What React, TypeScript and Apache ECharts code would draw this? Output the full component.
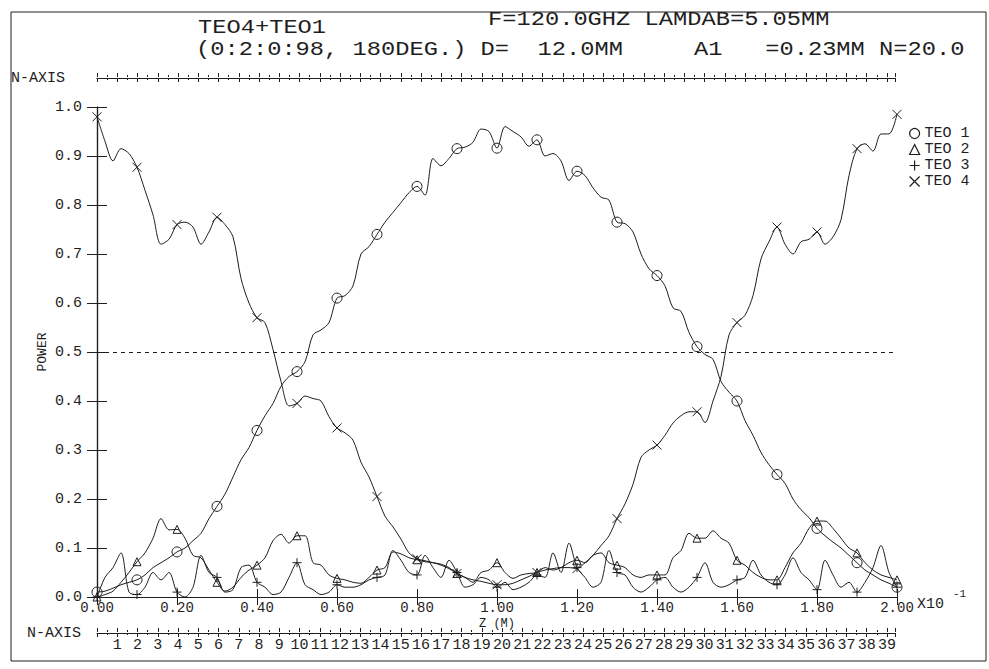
import React, { useEffect, useRef } from "react";
import * as echarts from "echarts";

// Axial position Z (x10^-1 m), sampled every 0.02
const Z_STEP = 0.02;
const Z_COUNT = 101;
const Z = Array.from({ length: Z_COUNT }, (_, i) => Math.round(i * Z_STEP * 100) / 100);

// Mode powers along the converter
const TEO1 = [
  0.01, 0.012, 0.018, 0.025, 0.03, 0.035, 0.045, 0.06, 0.07, 0.08,
  0.092, 0.1, 0.115, 0.13, 0.16, 0.185, 0.21, 0.245, 0.28, 0.305,
  0.34, 0.37, 0.395, 0.43, 0.45, 0.46, 0.48, 0.535, 0.545, 0.56,
  0.61, 0.615, 0.635, 0.7, 0.715, 0.74, 0.765, 0.785, 0.805, 0.825,
  0.838, 0.82, 0.895, 0.88, 0.895, 0.915, 0.918, 0.928, 0.955, 0.95,
  0.916, 0.96, 0.95, 0.939, 0.92, 0.933, 0.9, 0.905, 0.89, 0.85,
  0.869, 0.86, 0.835, 0.816, 0.81, 0.765, 0.762, 0.745, 0.7, 0.67,
  0.656, 0.635, 0.59, 0.583, 0.54, 0.511, 0.495, 0.485, 0.44, 0.418,
  0.4, 0.36, 0.33, 0.295, 0.27, 0.25, 0.232, 0.2, 0.178, 0.162,
  0.14, 0.125, 0.112, 0.1, 0.085, 0.07, 0.055, 0.045, 0.035, 0.028,
  0.02,
];

const TEO2 = [
  0.0, 0.005, 0.012, 0.03, 0.05, 0.072, 0.09, 0.12, 0.16, 0.137,
  0.138, 0.12, 0.085, 0.08, 0.055, 0.03, 0.012, 0.02, 0.04, 0.055,
  0.065, 0.08, 0.115, 0.128, 0.11, 0.125, 0.125, 0.07, 0.065, 0.045,
  0.038, 0.035, 0.03, 0.028, 0.04, 0.055, 0.06, 0.092, 0.088, 0.08,
  0.076, 0.072, 0.07, 0.065, 0.058, 0.048, 0.04, 0.03, 0.05, 0.055,
  0.07, 0.05, 0.038, 0.045, 0.048, 0.05, 0.06, 0.055, 0.06, 0.07,
  0.075, 0.07, 0.085, 0.09, 0.07, 0.065, 0.06, 0.045, 0.04, 0.045,
  0.045, 0.045, 0.08, 0.095, 0.13, 0.12, 0.12, 0.135, 0.12, 0.11,
  0.075, 0.065, 0.05, 0.04, 0.035, 0.035, 0.06, 0.09, 0.11, 0.14,
  0.155, 0.155, 0.14, 0.12, 0.1, 0.09, 0.07, 0.055, 0.045, 0.04,
  0.035,
];

const TEO3 = [
  0.0, 0.04, 0.06, 0.09, 0.01, 0.005, 0.02, 0.05, 0.035, 0.05,
  0.01, 0.0, 0.02, 0.085, 0.05, 0.04, 0.01, 0.015, 0.06, 0.065,
  0.03, 0.02, 0.005, 0.01, 0.04, 0.07, 0.025, 0.015, 0.005, 0.01,
  0.025, 0.02, 0.02, 0.025, 0.035, 0.04, 0.045, 0.095, 0.075, 0.05,
  0.045, 0.085, 0.06, 0.04, 0.075, 0.05, 0.02, 0.025, 0.04, 0.035,
  0.02, 0.03, 0.015, 0.02, 0.03, 0.045, 0.04, 0.09, 0.05, 0.11,
  0.06, 0.04, 0.02, 0.03, 0.095, 0.05, 0.045, 0.02, 0.01, 0.02,
  0.035, 0.04, 0.02, 0.01, 0.02, 0.04, 0.07, 0.03, 0.02, 0.025,
  0.035, 0.04, 0.075, 0.045, 0.03, 0.025, 0.045, 0.08, 0.05, 0.035,
  0.015, 0.075, 0.045, 0.02, 0.03, 0.01, 0.03, 0.06, 0.105, 0.05,
  0.02,
];

const TEO4 = [
  0.98, 0.93, 0.89, 0.915, 0.905, 0.877, 0.83, 0.78, 0.72, 0.73,
  0.76, 0.765, 0.755, 0.72, 0.745, 0.775, 0.76, 0.735, 0.65, 0.6,
  0.57, 0.56, 0.505, 0.44, 0.39, 0.395, 0.41, 0.405, 0.4, 0.368,
  0.345, 0.335, 0.32, 0.275, 0.245, 0.205, 0.165, 0.143, 0.118, 0.09,
  0.078, 0.074, 0.07, 0.067, 0.06, 0.048, 0.04, 0.035, 0.032, 0.028,
  0.025, 0.025, 0.028, 0.035, 0.042, 0.05, 0.055, 0.058, 0.06, 0.06,
  0.058, 0.07, 0.085, 0.105, 0.125, 0.16, 0.19, 0.23, 0.285, 0.3,
  0.31, 0.33, 0.355, 0.37, 0.378, 0.378, 0.356, 0.4, 0.45, 0.535,
  0.56, 0.575, 0.615, 0.69, 0.725, 0.755, 0.72, 0.7, 0.725, 0.73,
  0.745, 0.72, 0.735, 0.77, 0.86, 0.915, 0.925, 0.91, 0.945, 0.945,
  0.985,
];

const MODE_NAMES = ["TEO 1", "TEO 2", "TEO 3", "TEO 4"];
const Z_TICKS_MAX = 2;
const N_MAX = 39.4;
const HALF_POWER = 0.5;
const MARK_EVERY = 5;

const INK = "#1e1e1e";
const FONT = "Liberation Mono";
const PLUS = "path://M0,5L10,5M5,0L5,10";
const CROSS = "path://M0,0L10,10M10,0L0,10";

const TITLE_1 = "TEO4+TEO1";
const TITLE_2 = "F=120.0GHZ LAMDAB=5.05MM";
const TITLE_3 = "(0:2:0:98, 180DEG.) D=  12.0MM     A1   =0.23MM N=20.0";

function modeSeries(name: string, values: number[], symbol: string, size: number, withRef = false) {
  const s: any = {
    type: "line",
    name,
    xAxisIndex: 0,
    yAxisIndex: 0,
    data: Z.map((z, i) => [z, values[i]]),
    smooth: 0.3,
    symbol,
    symbolSize: (_v: any, p: any) => (p.dataIndex % MARK_EVERY === 0 ? size : 0),
    showSymbol: true,
    showAllSymbol: true,
    lineStyle: { color: INK, width: 1 },
    itemStyle: { color: "transparent", borderColor: INK, borderWidth: 1 },
    emphasis: { disabled: true },
    silent: true,
    z: 3,
  };
  if (withRef) {
    s.markLine = {
      silent: true,
      symbol: ["none", "none"],
      label: { show: false },
      lineStyle: { color: INK, type: [4, 4], width: 1 },
      data: [{ yAxis: HALF_POWER }],
    };
  }
  return s;
}

function nAxis(gridIndex: number, position: "top" | "bottom", withLine: boolean, labels: boolean, name?: string, nameGap?: number) {
  return {
    gridIndex,
    type: "value",
    position,
    min: 0,
    max: N_MAX,
    interval: 1,
    axisLine: { show: withLine, lineStyle: { color: INK, width: 1 } },
    axisTick: { show: true, inside: false, length: 4, lineStyle: { color: INK, width: 1 } },
    minorTick: { show: true, splitNumber: 2, length: 2, lineStyle: { color: INK, width: 1 } },
    splitLine: { show: false },
    axisLabel: {
      show: labels,
      margin: 5,
      fontSize: 15,
      fontFamily: FONT,
      color: INK,
      formatter: (v: number) => (Number.isInteger(v) && v > 0 ? String(v) : ""),
    },
    name: name || "",
    nameLocation: "start",
    nameGap: nameGap || 0,
    nameMoveOverlap: false,
    nameTextStyle: { fontSize: 15, fontFamily: FONT, color: INK },
  };
}

function titleText(text: string, x: number, y: number) {
  return {
    type: "text",
    x,
    y,
    scaleX: 1.13,
    style: {
      text,
      fontSize: 21,
      lineHeight: 21,
      fontFamily: FONT,
      fill: INK,
      verticalAlign: "middle",
    },
  };
}

export default function App() {
  const ref = useRef<HTMLDivElement>(null);

  useEffect(() => {
    if (!ref.current) return;
    const chart = echarts.init(ref.current, null, { renderer: "svg" });

    const zAxisBase = {
      gridIndex: 0,
      type: "value",
      min: 0,
      max: Z_TICKS_MAX,
      interval: 0.2,
      axisLine: { show: true, lineStyle: { color: INK, width: 1.2 } },
      axisTick: { show: true, inside: true, length: 8, lineStyle: { color: INK, width: 1 } },
      splitLine: { show: false },
    };
    const powerAxisBase = {
      gridIndex: 0,
      type: "value",
      min: 0,
      max: 1,
      interval: 0.1,
      axisLine: { show: true, lineStyle: { color: INK, width: 1.2 } },
      axisTick: { show: true, inside: true, length: 10, lineStyle: { color: INK, width: 1 } },
      splitLine: { show: false },
    };

    const option: any = {
      animation: false,
      backgroundColor: "#ffffff",
      textStyle: { fontFamily: FONT, color: INK },
      grid: [
        { left: 97, top: 107, width: 800, height: 490 },
        { left: 97, top: 77, width: 798, height: 1 },
        { left: 97, top: 632, width: 798, height: 1 },
      ],
      xAxis: [
        {
          ...zAxisBase,
          position: "bottom",
          axisLabel: {
            margin: 4,
            fontSize: 14,
            lineHeight: 13,
            fontFamily: FONT,
            color: INK,
            formatter: (v: number) => v.toFixed(2),
          },
          name: "Z (M)",
          nameLocation: "middle",
          nameGap: 21,
          nameMoveOverlap: false,
          nameTextStyle: {
            fontSize: 12,
            lineHeight: 11,
            fontFamily: FONT,
            color: INK,
            verticalAlign: "top",
          },
        },
        { ...zAxisBase, position: "top", axisLabel: { show: false } },
        nAxis(1, "bottom", true, false, "N-AXIS", 32),
        nAxis(1, "top", false, false),
        nAxis(2, "bottom", true, true, "N-AXIS", 16),
        nAxis(2, "top", false, false),
      ],
      yAxis: [
        {
          ...powerAxisBase,
          position: "left",
          axisLabel: {
            margin: 15,
            fontSize: 15,
            fontFamily: FONT,
            color: INK,
            formatter: (v: number) => v.toFixed(1),
          },
          name: "POWER",
          nameLocation: "middle",
          nameGap: 48,
          nameRotate: 90,
          nameMoveOverlap: false,
          nameTextStyle: { fontSize: 13, fontFamily: FONT, color: INK },
        },
        { ...powerAxisBase, position: "right", axisLabel: { show: false } },
        { gridIndex: 1, type: "value", show: false },
        { gridIndex: 2, type: "value", show: false },
      ],
      legend: {
        orient: "vertical",
        left: 904,
        top: 121,
        itemWidth: 10,
        itemHeight: 10,
        itemGap: 1,
        selectedMode: false,
        textStyle: { fontSize: 15, fontFamily: FONT, color: INK },
        itemStyle: { color: "transparent", borderColor: INK, borderWidth: 1.2 },
        data: [
          { name: MODE_NAMES[0], icon: "circle" },
          { name: MODE_NAMES[1], icon: "triangle" },
          { name: MODE_NAMES[2], icon: PLUS },
          { name: MODE_NAMES[3], icon: CROSS },
        ],
      },
      series: [
        modeSeries(MODE_NAMES[0], TEO1, "circle", 10, true),
        modeSeries(MODE_NAMES[1], TEO2, "triangle", 8),
        modeSeries(MODE_NAMES[2], TEO3, PLUS, 9),
        modeSeries(MODE_NAMES[3], TEO4, CROSS, 9),
      ],
      graphic: [
        {
          type: "rect",
          shape: { x: 11, y: 12, width: 975, height: 649 },
          style: { fill: "none", stroke: INK, lineWidth: 1 },
          silent: true,
        },
        titleText(TITLE_1, 198, 27),
        titleText(TITLE_2, 488, 19),
        titleText(TITLE_3, 196, 49),
        {
          type: "text",
          x: 917,
          y: 604,
          style: { text: "X10", fontSize: 15, fontFamily: FONT, fill: INK, verticalAlign: "middle" },
        },
        {
          type: "text",
          x: 953,
          y: 594,
          style: { text: "-1", fontSize: 11, fontFamily: FONT, fill: INK, verticalAlign: "middle" },
        },
      ],
    };

    chart.setOption(option);
    return () => chart.dispose();
  }, []);

  return (
    <div
      ref={ref}
      style={{ position: "fixed", left: 0, top: 0, width: 989, height: 669, background: "#fff" }}
    />
  );
}
